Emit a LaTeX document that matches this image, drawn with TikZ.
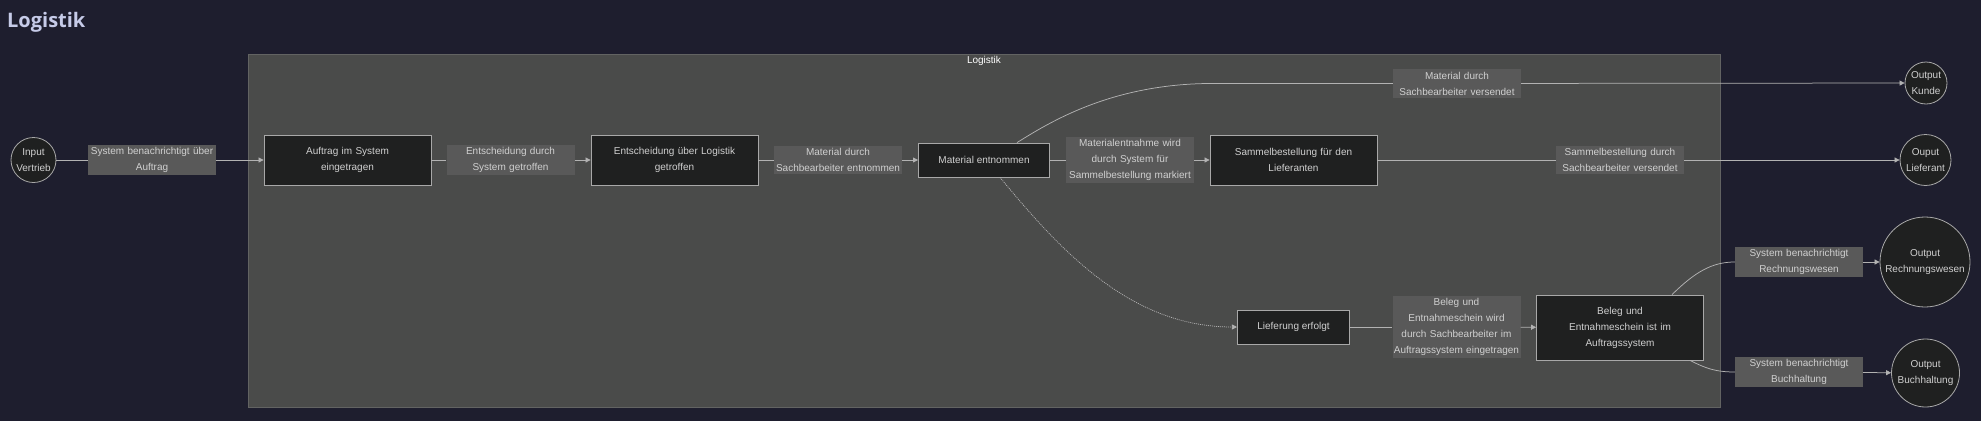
\documentclass[tikz,border=0pt]{standalone}
\usepackage{fontspec}
\setmainfont{Liberation Sans}
\newfontfamily\titlefont{Open Sans}
\usetikzlibrary{arrows.meta}

\definecolor{bgnavy}{HTML}{1E1E2E}
\definecolor{clusterfill}{HTML}{4A4B4A}
\definecolor{clusterline}{HTML}{626362}
\definecolor{boxfill}{HTML}{1F2020}
\definecolor{boxline}{HTML}{A8A8A8}
\definecolor{labelfill}{HTML}{595959}
\definecolor{textgray}{HTML}{D0D0D0}
\definecolor{edgegray}{HTML}{B2B2B2}
\definecolor{titlecol}{HTML}{C6CBE8}

\begin{document}
\begin{tikzpicture}[x=1pt, y=-1pt,
  every node/.style={font=\fontsize{10}{16}\selectfont, text=textgray, align=center},
  procbox/.style={draw=boxline, line width=0.8pt, fill=boxfill, rectangle, inner xsep=20pt, inner ysep=4pt, minimum height=34pt},
  edgelabel/.style={fill=labelfill, rectangle, text width=128pt, inner xsep=0pt, inner ysep=2.5pt},
  ionode/.style={draw=boxline, line width=0.8pt, fill=boxfill, circle, inner sep=1pt},
  flow/.style={draw=edgegray, line width=0.75pt, -{Triangle[length=5pt,width=5pt]}},
  link/.style={draw=edgegray, line width=0.75pt}]

  % Canvas
  \fill[bgnavy] (0,0) rectangle (1981,421);
  \useasboundingbox (0,0) rectangle (1981,421);

  % Title
  \node[anchor=base west, inner sep=0pt, text=titlecol, font=\titlefont\bfseries\fontsize{20}{24}\selectfont] (title) at (7,27) {Logistik};

  % Cluster
  \node[draw=clusterline, line width=0.8pt, fill=clusterfill, minimum width=1472pt, minimum height=353pt, inner sep=0pt] (logi) at (984,230.5) {};
  \node[anchor=north, inner sep=2pt, text=white] (logilabel) at (logi.north) {Logistik};

  % Inputs and outputs
  \node[ionode, minimum size=45pt] (iv) at (33.5,160) {Input\\Vertrieb};
  \node[ionode, minimum size=42pt] (oku) at (1926,83) {Output\\Kunde};
  \node[ionode, minimum size=51pt] (oli) at (1925.5,160) {Ouput\\Lieferant};
  \node[ionode, minimum size=90pt] (orw) at (1925,262) {Output\\Rechnungswesen};
  \node[ionode, minimum size=68pt] (obh) at (1925.5,373) {Output\\Buchhaltung};

  % Process steps
  \node[procbox, text width=127pt, minimum height=50pt] (auf) at (347.5,160) {Auftrag im System\\eingetragen};
  \node[procbox, text width=127pt, minimum height=50pt] (ent) at (674.5,160) {Entscheidung über Logistik\\getroffen};
  \node[procbox] (me) at (984,160) {Material entnommen};
  \node[procbox, text width=127pt, minimum height=50pt] (sam) at (1293.5,160) {Sammelbestellung für den\\Lieferanten};
  \node[procbox] (lief) at (1293.5,327) {Lieferung erfolgt};
  \node[procbox, text width=127pt, minimum height=65pt] (bel) at (1620,327.5) {Beleg und\\Entnahmeschein ist im\\Auftragssystem};

  % Edge labels
  \node[edgelabel] (lsb) at (152,160) {System benachrichtigt über\\Auftrag};
  \node[edgelabel] (lsg) at (510.5,160) {Entscheidung durch\\System getroffen};
  \node[edgelabel] (lme) at (838,160) {Material durch\\Sachbearbeiter entnommen};
  \node[edgelabel] (lmm) at (1130,160) {Materialentnahme wird\\durch System für\\Sammelbestellung markiert};
  \node[edgelabel] (lmv) at (1457,83.5) {Material durch\\Sachbearbeiter versendet};
  \node[edgelabel] (lsv) at (1620,160) {Sammelbestellung durch\\Sachbearbeiter versendet};
  \node[edgelabel] (lbe) at (1456.5,327) {Beleg und\\Entnahmeschein wird\\durch Sachbearbeiter im\\Auftragssystem eingetragen};
  \node[edgelabel] (lrw) at (1799,262) {System benachrichtigt\\Rechnungswesen};
  \node[edgelabel] (lbh) at (1799,372) {System benachrichtigt\\Buchhaltung};

  % Connectors
  \draw[link] (iv) -- (lsb);
  \draw[flow] (lsb) -- (auf);
  \draw[link] (auf) -- (lsg);
  \draw[flow] (lsg) -- (ent);
  \draw[link] (ent) -- (lme);
  \draw[flow] (lme) -- (me);
  \draw[link] (me) -- (lmm);
  \draw[flow] (lmm) -- (sam);
  \draw[link] ([xshift=33pt]me.north) .. controls (1050,122) and (1110,85) .. (1207,83.5) -- (lmv.west);
  \draw[flow] (lmv) -- (oku);
  \draw[link] (sam) -- (lsv);
  \draw[flow] (lsv) -- (oli);
  \draw[flow, dash pattern=on 1pt off 1pt] ([xshift=16pt]me.south) .. controls (1060,250) and (1130,327) .. (lief.west);
  \draw[link] (lief) -- (lbe);
  \draw[flow] (lbe) -- (bel);
  \draw[link] ([xshift=52pt]bel.north) .. controls (1695,272) and (1712,262) .. (lrw.west);
  \draw[flow] (lrw) -- (orw);
  \draw[link] ([xshift=70pt]bel.south) .. controls (1705,368) and (1715,372) .. (lbh.west);
  \draw[flow] (lbh) -- (obh);
\end{tikzpicture}
\end{document}
